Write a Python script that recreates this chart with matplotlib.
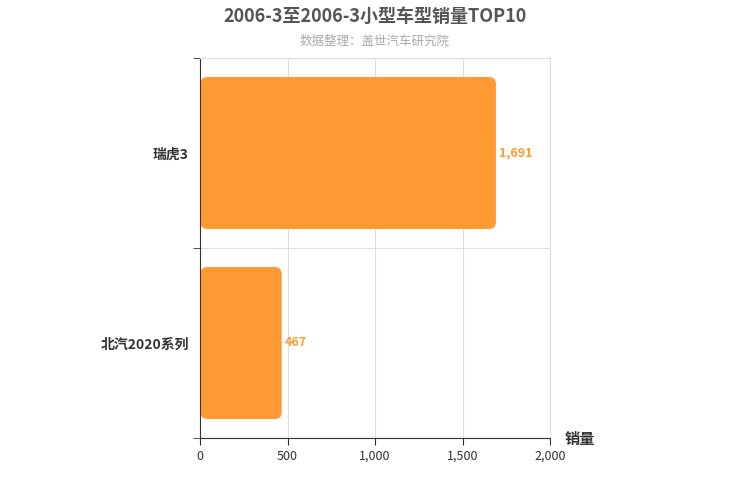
import matplotlib
matplotlib.use("Agg")
import matplotlib.pyplot as plt
from matplotlib.patches import FancyBboxPatch

plt.rcParams['font.family'] = ['Noto Sans CJK SC', 'DejaVu Sans']

categories = ['北汽2020系列', '瑞虎3']
values = [467, 1691]
xticks = [0, 500, 1000, 1500, 2000]
xticklabels = ['0', '500', '1,000', '1,500', '2,000']
color = '#FF9A33'

fig = plt.figure(figsize=(7.5, 5), dpi=100)
ax = fig.add_axes([200/750, 62/500, 350/750, 380/500])
bars = ax.barh(range(len(categories)), values, height=0.8, color='none')
rx = 40
ry = rx * (2/380) / (2000/350)
for b in bars:
    x, y, w, h = b.get_x(), b.get_y(), b.get_width(), b.get_height()
    p = FancyBboxPatch((x + 2, y), w - 2, h, boxstyle=f"round,pad=0,rounding_size={rx}",
                       mutation_aspect=ry / rx, fc=color, ec='none')
    ax.add_patch(p)
for i, v in enumerate(values):
    ax.text(v + 20, i, f"{v:,}", va='center', ha='left', color=color, fontsize=9, fontweight='bold')

ax.set_xlim(0, 2000)
ax.set_ylim(-0.5, 1.5)
ax.set_xticks(xticks)
ax.set_xticklabels(xticklabels, fontsize=9, color='#333333')
ax.set_yticks([0, 1])
ax.set_yticklabels(categories, fontsize=10, color='#333333', fontweight='bold')
ax.set_yticks([-0.5, 0.5, 1.5], minor=True)
ax.tick_params(axis='y', which='major', length=0, pad=8)
ax.tick_params(axis='y', which='minor', length=5, color='#333333')
ax.tick_params(axis='x', length=5, color='#333333')
ax.grid(True, axis='x', color='#dddddd', lw=0.8)
ax.grid(True, axis='y', which='minor', color='#dddddd', lw=0.8)
ax.set_axisbelow(True)
for s in ['top', 'right']:
    ax.spines[s].set_color('#dddddd')
for s in ['left', 'bottom']:
    ax.spines[s].set_color('#333333')

fig.text(0.5, 1 - 16/500, '2006-3至2006-3小型车型销量TOP10', ha='center', va='center',
         fontsize=13, fontweight='bold', color='#555555')
fig.text(0.5, 1 - 41/500, '数据整理：盖世汽车研究院', ha='center', va='center',
         fontsize=9, color='#aaaaaa')
fig.text(565/750, 1 - 439/500, '销量', ha='left', va='center', fontsize=11,
         fontweight='bold', color='#333333')
fig.savefig('out.png', dpi=100)
